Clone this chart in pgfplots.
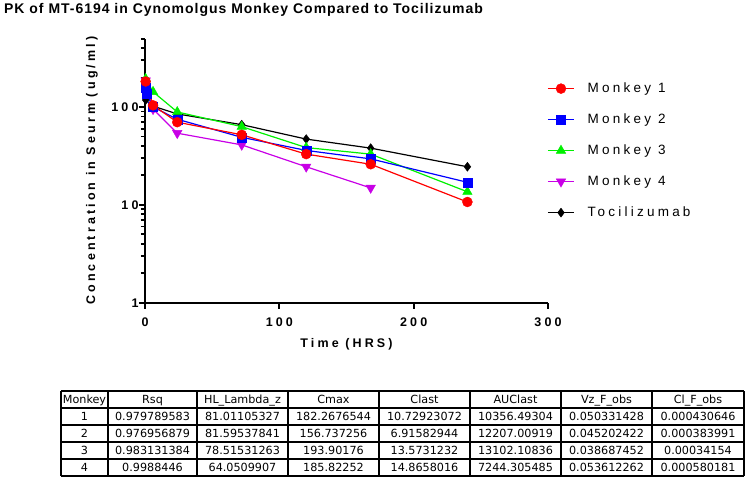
\documentclass[border=0pt]{standalone}
\usepackage{pgfplots}
\pgfplotsset{compat=1.18}
\usepackage{fontspec}
\setmainfont{Liberation Sans}
\newfontfamily\axfont[LetterSpace=25]{Liberation Sans}
\newfontfamily\titlefont[LetterSpace=7]{Liberation Sans}
\newfontfamily\legfont[LetterSpace=24]{Liberation Sans}
\newfontfamily\tabfont{DejaVu Sans}
\definecolor{mred}{RGB}{255,0,0}
\definecolor{mblue}{RGB}{0,0,255}
\definecolor{mgreen}{RGB}{0,240,0}
\definecolor{mpurple}{RGB}{200,0,230}
\begin{document}
\begin{tikzpicture}[x=1pt,y=1pt]
\useasboundingbox (0,0) rectangle (745,-480);
\node[anchor=base, inner sep=0pt, font=\titlefont\bfseries\fontsize{14}{16}\selectfont] at (243.5,-13.5) {PK of MT-6194 in Cynomolgus Monkey Compared to Tocilizumab};
\begin{axis}[
  at={(145pt,-302.7pt)}, anchor=south west,
  scale only axis, width=403pt, height=264.1pt,
  ymode=log, xmin=0, xmax=300, ymin=1, ymax=500,
  axis x line*=bottom, axis y line*=left,
  axis line style={-, line width=2.4pt},
  xtick={0,100,200,300}, xticklabels={0,100,200,300},
  ytick={1,10,100}, yticklabels={1,10,100},
  minor ytick={2,3,4,5,6,7,8,9,20,30,40,50,60,70,80,90,200,300,400,500},
  tick align=outside, major tick length=6pt, minor tick length=4pt,
  tick style={black, line width=1.8pt},
  tick label style={font=\axfont\bfseries\fontsize{12.5}{15}\selectfont},
  xticklabel style={yshift=-6pt},
  yticklabel style={xshift=3pt},
  xlabel={Time (HRS)}, ylabel={Concentration in Seurm (ug/ml)},
  label style={font=\axfont\bfseries\fontsize{12.5}{15}\selectfont},
  xlabel style={at={(axis description cs:0.5,-0.156)}, anchor=center},
  ylabel style={at={(axis description cs:-0.1315,0.5)}, anchor=center},
  clip=false,
  reverse legend,
  legend cell align=left,
  legend image code/.code={\draw[mark repeat=2,mark phase=2] plot coordinates {(0pt,0pt) (13pt,0pt) (26pt,0pt)};},
  legend style={draw=none, fill=none, at={(axis description cs:0.998,0.836)}, anchor=north west,
    inner sep=0pt, row sep=18pt, font=\legfont\fontsize{13.5}{15}\selectfont,
    nodes={inner sep=0pt, text height=10pt, text depth=3pt},
    /tikz/every odd column/.append style={column sep=13pt}},
]
\addplot[black, line width=1.2pt, mark=diamond*, mark size=4.5pt, mark options={solid, fill=black, line width=0.4pt}]
  coordinates {(0.5,118) (6,102) (24,85) (72,66) (120,47) (168,38) (240,24.5)};
\addlegendentry{Tocilizumab}
\addplot[mpurple, line width=1.2pt, mark=triangle*, mark size=5.5pt, mark options={solid, fill=mpurple, line width=0.4pt, rotate=180}]
  coordinates {(0.5,185.8) (6,95) (24,54) (72,41) (120,24.5) (168,14.9)};
\addlegendentry{Monkey 4}
\addplot[mgreen, line width=1.2pt, mark=triangle*, mark size=5.5pt, mark options={solid, fill=mgreen, line width=0.4pt}]
  coordinates {(0.5,193.9) (6,143) (24,89) (72,63) (120,38.5) (168,33) (240,13.6)};
\addlegendentry{Monkey 3}
\addplot[mblue, line width=1.2pt, mark=square*, mark size=4.5pt, mark options={solid, fill=mblue, line width=0.4pt}]
  coordinates {(0.25,156.7) (1,138) (6,100) (24,75) (72,49) (120,36) (168,29.5) (240,17)};
\addlegendentry{Monkey 2}
\addplot[mred, line width=1.2pt, mark=*, mark size=5pt, mark options={solid, fill=mred, line width=0.4pt}]
  coordinates {(0.5,182.3) (6,104) (24,70) (72,52) (120,33) (168,26) (240,10.7)};
\addlegendentry{Monkey 1}
\end{axis}
% table
\begin{scope}[line width=1.3pt]
\foreach \yy in {391,408,425,442,459,476} \draw (61,-\yy) -- (744,-\yy);
\foreach \xx in {61,108,197,288,379,470,561,652,744} \draw (\xx,-391) -- (\xx,-476);
\end{scope}
\begin{scope}[every node/.style={anchor=base, inner sep=0pt, font=\tabfont\fontsize{11.2}{13}\selectfont}]
\def\rowA{403.5}\def\rowB{420.5}\def\rowC{437.5}\def\rowD{454.5}\def\rowE{471.5}
\def\cA{84.5}\def\cB{152.5}\def\cC{242.5}\def\cD{333.5}\def\cE{424.5}\def\cF{515.5}\def\cG{606.5}\def\cH{698}
\node at (\cA,-\rowA) {Monkey};
\node at (\cB,-\rowA) {Rsq};
\node at (\cC,-\rowA) {HL\_Lambda\_z};
\node at (\cD,-\rowA) {Cmax};
\node at (\cE,-\rowA) {Clast};
\node at (\cF,-\rowA) {AUClast};
\node at (\cG,-\rowA) {Vz\_F\_obs};
\node at (\cH,-\rowA) {Cl\_F\_obs};
\node at (\cA,-\rowB) {1};
\node at (\cB,-\rowB) {0.979789583};
\node at (\cC,-\rowB) {81.01105327};
\node at (\cD,-\rowB) {182.2676544};
\node at (\cE,-\rowB) {10.72923072};
\node at (\cF,-\rowB) {10356.49304};
\node at (\cG,-\rowB) {0.050331428};
\node at (\cH,-\rowB) {0.000430646};
\node at (\cA,-\rowC) {2};
\node at (\cB,-\rowC) {0.976956879};
\node at (\cC,-\rowC) {81.59537841};
\node at (\cD,-\rowC) {156.737256};
\node at (\cE,-\rowC) {6.91582944};
\node at (\cF,-\rowC) {12207.00919};
\node at (\cG,-\rowC) {0.045202422};
\node at (\cH,-\rowC) {0.000383991};
\node at (\cA,-\rowD) {3};
\node at (\cB,-\rowD) {0.983131384};
\node at (\cC,-\rowD) {78.51531263};
\node at (\cD,-\rowD) {193.90176};
\node at (\cE,-\rowD) {13.5731232};
\node at (\cF,-\rowD) {13102.10836};
\node at (\cG,-\rowD) {0.038687452};
\node at (\cH,-\rowD) {0.00034154};
\node at (\cA,-\rowE) {4};
\node at (\cB,-\rowE) {0.9988446};
\node at (\cC,-\rowE) {64.0509907};
\node at (\cD,-\rowE) {185.82252};
\node at (\cE,-\rowE) {14.8658016};
\node at (\cF,-\rowE) {7244.305485};
\node at (\cG,-\rowE) {0.053612262};
\node at (\cH,-\rowE) {0.000580181};
\end{scope}
\end{tikzpicture}
\end{document}
